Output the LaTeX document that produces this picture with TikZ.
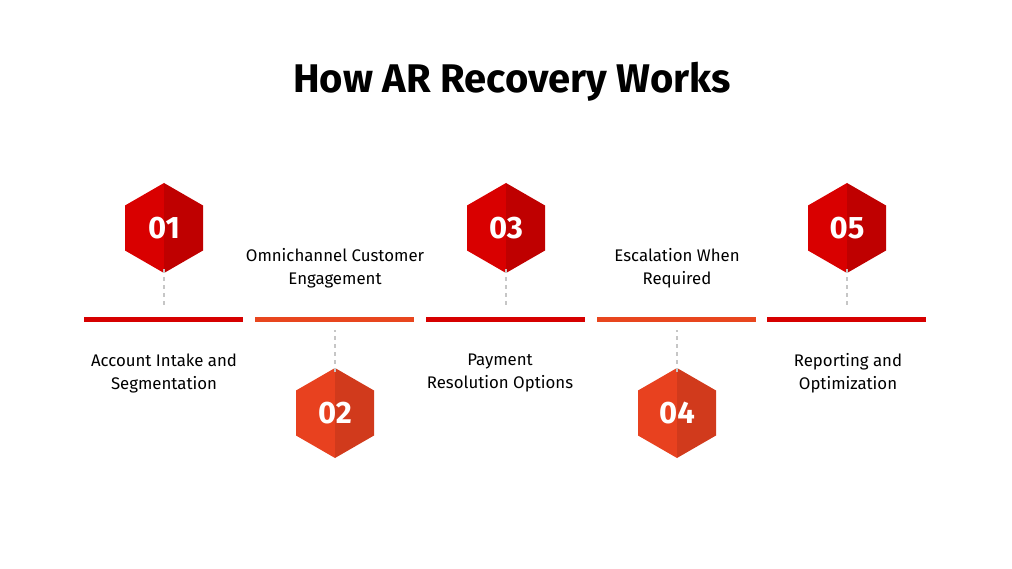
\documentclass[tikz,border=0pt]{standalone}
\usepackage{fontspec}
\setmainfont{Fira Sans}
\usetikzlibrary{positioning}
\definecolor{redL}{HTML}{D90000}
\definecolor{redD}{HTML}{BF0000}
\definecolor{oraL}{HTML}{E8411F}
\definecolor{oraD}{HTML}{D13A1C}
\definecolor{redBar}{HTML}{D60000}
\definecolor{oraBar}{HTML}{E8461E}
\tikzset{
	bar/.style={line width=5pt},
	link/.style={draw=gray!45, line width=1.5pt, dash pattern=on 4pt off 4pt},
	step label/.style={align=center, font=\fontsize{16.8}{23}\selectfont},
	hexnum/.style={text=white, font=\fontsize{31}{31}\selectfont\bfseries},
}
% hexagon: name, x, y, light, dark, number
\newcommand{\hexstep}[6]{
	\fill[#4] (#2,#3-45) -- (#2-39,#3-22.5) -- (#2-39,#3+22.5) -- (#2,#3+45) -- cycle;
	\fill[#5] (#2,#3-45) -- (#2+39,#3-22.5) -- (#2+39,#3+22.5) -- (#2,#3+45) -- cycle;
	\node[hexnum, minimum height=90pt, minimum width=78pt, inner sep=0pt] (#1) at (#2,#3) {#6};
}
\begin{document}
\begin{tikzpicture}[x=1pt, y=-1pt]
	
	% ------------------------------------------------
	% Canvas
	\useasboundingbox (0,0) rectangle (1012,569);
	
	\node[font=\fontsize{40}{40}\selectfont\bfseries] (Title) at (512,82) {How AR Recovery Works};
	
	% ----------------
	% Timeline bars
	\draw[bar, redBar] (84,320) -- (243,320);
	\draw[bar, oraBar] (255,320) -- (414,320);
	\draw[bar, redBar] (426,320) -- (585,320);
	\draw[bar, oraBar] (597,320) -- (756,320);
	\draw[bar, redBar] (767,320) -- (926,320);
	
	% ----------------
	% Hexagons
	\hexstep{S1}{164}{228}{redL}{redD}{01}
	\hexstep{S2}{335}{413}{oraL}{oraD}{02}
	\hexstep{S3}{506}{228}{redL}{redD}{03}
	\hexstep{S4}{677}{413}{oraL}{oraD}{04}
	\hexstep{S5}{847}{228}{redL}{redD}{05}
	
	% ----------------
	% Connector ends
	\coordinate (E1) at (164,306);
	\coordinate (E2) at (335,330);
	\coordinate (E3) at (506,306);
	\coordinate (E4) at (677,330);
	\coordinate (E5) at (847,306);
	
	\draw[link] ([yshift=4pt]S1.south) -- (E1);
	\draw[link] ([yshift=-4pt]S2.north) -- (E2);
	\draw[link] ([yshift=4pt]S3.south) -- (E3);
	\draw[link] ([yshift=-4pt]S4.north) -- (E4);
	\draw[link] ([yshift=4pt]S5.south) -- (E5);
	
	% ----------------
	% Labels
	\node[step label] (L1) at (164,373) {Account Intake and\\Segmentation};
	\node[step label] (L2) at (335,268) {Omnichannel Customer\\Engagement};
	\node[step label] (L3) at (500,373) {Payment\\Resolution Options};
	\node[step label] (L4) at (677,268) {Escalation When\\Required};
	\node[step label] (L5) at (848,373) {Reporting and\\Optimization};
	
\end{tikzpicture}
\end{document}
